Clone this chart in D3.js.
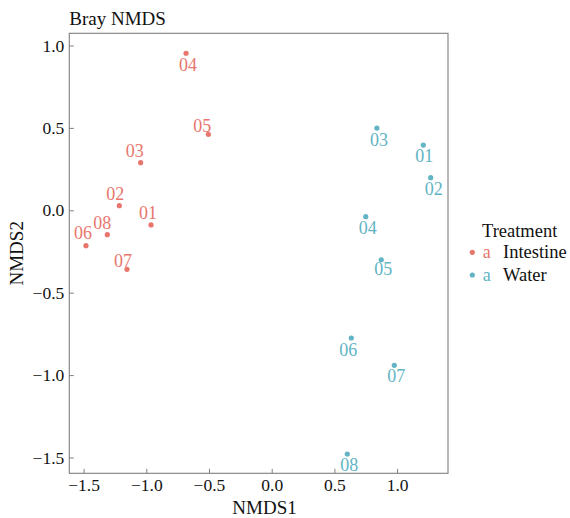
<!DOCTYPE html>
<html>
<head>
<meta charset="utf-8">
<script src="https://cdn.jsdelivr.net/npm/d3@7"></script>
<style>
  html, body { margin: 0; padding: 0; background: #fff; }
  svg { display: block; }
</style>
</head>
<body>
<svg id="chart" width="570" height="518"></svg>
<script>
// Sample ids and NMDS scores, per treatment group
const groups = ["Intestine", "Water"];
const intestineIds = ["01", "02", "03", "04", "05", "06", "07", "08"];
const intestineNMDS1 = [-0.962, -1.215, -1.045, -0.683, -0.505, -1.481, -1.154, -1.311];
const intestineNMDS2 = [-0.089, 0.028, 0.289, 0.953, 0.461, -0.215, -0.358, -0.148];
const waterIds = ["01", "02", "03", "04", "05", "06", "07", "08"];
const waterNMDS1 = [1.209, 1.268, 0.839, 0.750, 0.874, 0.635, 0.978, 0.603];
const waterNMDS2 = [0.396, 0.198, 0.499, -0.039, -0.300, -0.775, -0.941, -1.479];
const xTicks = [-1.5, -1.0, -0.5, 0.0, 0.5, 1.0];
const yTicks = [-1.5, -1.0, -0.5, 0.0, 0.5, 1.0];

// Label displacement (px) from each point, repelled so labels don't collide
const intestineNudge = [[-3, -12], [-4, -12], [-6, -12], [2, 11], [-6, -9], [-3, -13], [-4, -9], [-5, -12]];
const waterNudge = [[1, 10], [3, 11], [2, 11], [2, 11], [2, 9], [-3, 12], [2, 10], [2, 11]];

const colors = { Intestine: "#E8766D", Water: "#62B4C4" };
const serif = "'Liberation Serif', 'DejaVu Serif', 'Noto Serif', Tinos, FreeSerif, 'Nimbus Roman', 'Nimbus Roman No9 L', 'Times New Roman', Times, serif";

const points = [];
intestineIds.forEach((id, i) => points.push({ id, group: "Intestine", x: intestineNMDS1[i], y: intestineNMDS2[i], nudge: intestineNudge[i] }));
waterIds.forEach((id, i) => points.push({ id, group: "Water", x: waterNMDS1[i], y: waterNMDS2[i], nudge: waterNudge[i] }));

const svg = d3.select("#chart").style("font-family", serif);
const panel = { left: 69.3, right: 448, top: 33.3, bottom: 473.3 };

const x = d3.scaleLinear().domain([-1.614, 1.406]).range([panel.left, panel.right]);
const y = d3.scaleLinear().domain([-1.596, 1.074]).range([panel.bottom, panel.top]);

const fmt = d3.format(".1f");

// x axis (ticks pointing into the panel)
const gx = svg.append("g")
  .attr("transform", `translate(0,${panel.bottom})`)
  .call(d3.axisBottom(x).tickValues(xTicks).tickFormat(fmt).tickSizeInner(-4.5).tickSizeOuter(0).tickPadding(4));
gx.attr("font-family", null).attr("font-size", 17.5);
gx.select(".domain").remove();
gx.selectAll(".tick line").attr("stroke", "#7f7f7f");
gx.selectAll(".tick text").attr("fill", "#111").attr("dy", null).attr("y", 17.4);

// y axis
const gy = svg.append("g")
  .attr("transform", `translate(${panel.left},0)`)
  .call(d3.axisLeft(y).tickValues(yTicks).tickFormat(fmt).tickSizeInner(-4.5).tickSizeOuter(0).tickPadding(5));
gy.attr("font-family", null).attr("font-size", 17.5);
gy.select(".domain").remove();
gy.selectAll(".tick line").attr("stroke", "#7f7f7f");
gy.selectAll(".tick text").attr("fill", "#111");

// panel border
svg.append("rect")
  .attr("x", panel.left).attr("y", panel.top)
  .attr("width", panel.right - panel.left).attr("height", panel.bottom - panel.top)
  .attr("fill", "none").attr("stroke", "#7f7f7f").attr("stroke-width", 1.1);

// points
svg.append("g").selectAll("circle")
  .data(points).join("circle")
  .attr("cx", d => x(d.x)).attr("cy", d => y(d.y))
  .attr("r", 2.6)
  .attr("fill", d => colors[d.group]);

// sample labels
svg.append("g").selectAll("text")
  .data(points).join("text")
  .attr("x", d => x(d.x) + d.nudge[0])
  .attr("y", d => y(d.y) + d.nudge[1])
  .attr("dy", "0.36em")
  .attr("text-anchor", "middle")
  .attr("font-size", 18)
  .attr("fill", d => colors[d.group])
  .text(d => d.id);

// titles
svg.append("text").attr("x", panel.left).attr("y", 25)
  .attr("font-size", 19).attr("fill", "#111").text("Bray NMDS");
svg.append("text").attr("x", 264.5).attr("y", 514.3)
  .attr("text-anchor", "middle").attr("font-size", 19).attr("fill", "#111").text("NMDS1");
svg.append("text")
  .attr("transform", `translate(23,${(panel.top + panel.bottom) / 2}) rotate(-90)`)
  .attr("text-anchor", "middle").attr("font-size", 19).attr("fill", "#111").text("NMDS2");

// legend
const legend = svg.append("g");
legend.append("text").attr("x", 482).attr("y", 236.7)
  .attr("font-size", 18.5).attr("fill", "#111").text("Treatment");
const rows = legend.selectAll("g.row").data(groups).join("g")
  .attr("class", "row")
  .attr("transform", (d, i) => `translate(0,${252.3 + i * 22.7})`);
rows.append("circle").attr("cx", 472.3).attr("cy", 0).attr("r", 2.6).attr("fill", d => colors[d]);
rows.append("text").attr("x", 486.7).attr("y", 0).attr("dy", "0.33em")
  .attr("text-anchor", "middle").attr("font-size", 18).attr("fill", d => colors[d]).text("a");
rows.append("text").attr("x", 503).attr("y", 0).attr("dy", "0.33em")
  .attr("font-size", 18.5).attr("fill", "#111").text(d => d);
</script>
</body>
</html>
